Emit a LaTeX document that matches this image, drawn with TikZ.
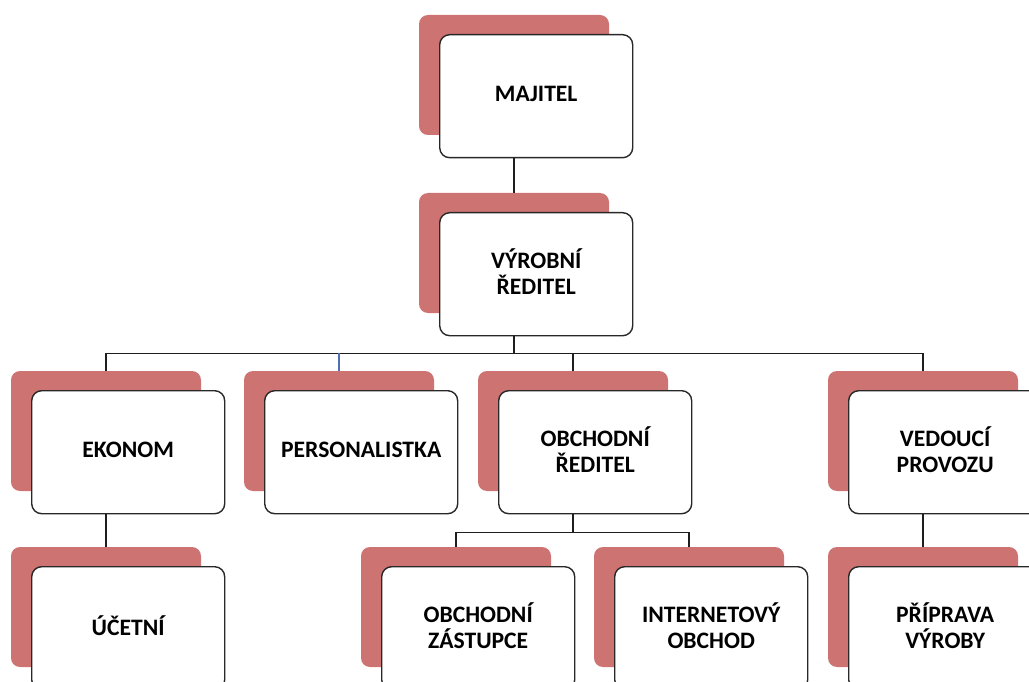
\documentclass[tikz,border=0pt]{standalone}
\usepackage{fontspec}
\setmainfont{Carlito}
\definecolor{shadered}{RGB}{205,115,113}
\definecolor{boxline}{RGB}{40,40,40}
\definecolor{linegray}{RGB}{30,30,30}
\definecolor{tickblue}{RGB}{80,110,180}
\begin{document}
\begin{tikzpicture}[x=1pt,y=-1pt,
  backbox/.style={fill=shadered, rounded corners=9pt, minimum width=190pt,
    minimum height=120pt, anchor=north west, inner sep=0pt, outer sep=0pt},
  frontbox/.style={draw=boxline, line width=1.4pt, fill=white, rounded corners=10pt,
    minimum width=193pt, minimum height=123pt, anchor=north west, inner sep=0pt},
  cardtext/.style={align=center, inner sep=0pt, yshift=2.5pt,
    font=\bfseries\fontsize{23.6}{25.5}\selectfont, text=black},
  conn/.style={draw=linegray, line width=1.5pt}]
\useasboundingbox (0,0) rectangle (1029,682);
\clip (0,0) rectangle (1029,682);

% one unit: red back plate with a white card in front of it, and its title
\newcommand\orgunit[4]{%
  \node[backbox] (#1-b) at (#2,#3) {};
  \node[frontbox] (#1) at (#2+20,#3+19) {};
  \node[cardtext] (#1-t) at (#1.center) {#4};}

\orgunit{maj}{419}{15}{MAJITEL}
\orgunit{vyr}{419}{193}{VÝROBNÍ\\ŘEDITEL}
\orgunit{ek}{11}{371}{EKONOM}
\orgunit{per}{244}{371}{PERSONALISTKA}
\orgunit{obr}{478}{371}{OBCHODNÍ\\ŘEDITEL}
\orgunit{ved}{828}{371}{VEDOUCÍ\\PROVOZU}
\orgunit{uc}{11}{547}{ÚČETNÍ}
\orgunit{oz}{361}{547}{OBCHODNÍ\\ZÁSTUPCE}
\orgunit{io}{594}{547}{INTERNETOVÝ\\OBCHOD}
\orgunit{pri}{828}{547}{PŘÍPRAVA\\VÝROBY}

% connectors
\draw[conn] (maj-b.center |- maj.south) -- (vyr-b.north);
\path (vyr-b.center |- vyr.south) ++(0,17) coordinate (bus1);
\draw[conn] (vyr-b.center |- vyr.south) -- (bus1);
\draw[conn] (ek-b.north) |- (bus1) -| (ved-b.north);
\draw[conn] (obr-b.north) -- (obr-b.north |- bus1);
\draw[conn, draw=tickblue] (per-b.north) -- (per-b.north |- bus1);
\draw[conn] (ek-b.center |- ek.south) -- (uc-b.north);
\draw[conn] (ved-b.center |- ved.south) -- (pri-b.north);
\path (obr-b.center |- obr.south) ++(0,18) coordinate (bus2);
\draw[conn] (obr-b.center |- obr.south) -- (bus2);
\draw[conn] (oz-b.north) |- (bus2) -| (io-b.north);
\end{tikzpicture}
\end{document}
